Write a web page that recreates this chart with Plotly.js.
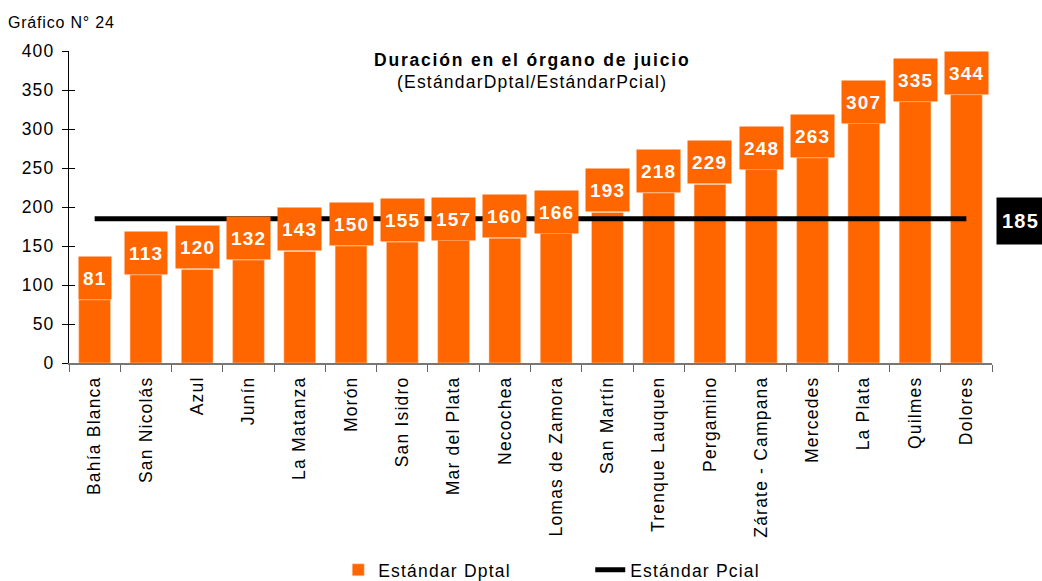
<!DOCTYPE html>
<html><head><meta charset="utf-8">
<script src="https://cdn.plot.ly/plotly-3.0.1.min.js"></script>
<style>body{margin:0;background:#fff}#chart{width:1042px;height:581px}
svg text{letter-spacing:1.2px}</style>
</head><body><div id="chart"></div>
<script>
const categories = ["Bahía Blanca","San Nicolás","Azul","Junín","La Matanza","Morón","San Isidro","Mar del Plata","Necochea","Lomas de Zamora","San Martín","Trenque Lauquen","Pergamino","Zárate - Campana","Mercedes","La Plata","Quilmes","Dolores"];
const dptal = [81,113,120,132,143,150,155,157,160,166,193,218,229,248,263,307,335,344];
const pcialValue = 185;
const pcial = categories.map(() => pcialValue);
const yTicks = [0,50,100,150,200,250,300,350,400];

const FONT = "Liberation Sans, Arial, sans-serif";
const ORANGE = "#FF6600";

const traces = [
  {type:"bar", x:categories, y:dptal, name:"Estándar Dptal",
   marker:{color:ORANGE, line:{color:"#ffd9bf", width:0.5}}, hoverinfo:"x+y"},
  {type:"scatter", mode:"lines", x:categories, y:pcial, name:"Estándar Pcial",
   line:{color:"#000", width:5}},
  {type:"scatter", mode:"none", x:[categories[0]], y:[0], yaxis:"y2", showlegend:false, hoverinfo:"skip"}
];

const annotations = dptal.map((v,i) => ({
  x:categories[i], y:v, xref:"x", yref:"y", yanchor:"bottom", xanchor:"center",
  text:"<b>"+v+"</b>", showarrow:false, bgcolor:ORANGE, borderpad:4, height:34,
  font:{family:FONT, size:19, color:"#fff"}
}));
annotations.push({
  x:1.0045, y:pcialValue, xref:"paper", yref:"y", xanchor:"left", yanchor:"middle", yshift:-2,
  text:"<b>"+pcialValue+"</b>", showarrow:false, bgcolor:"#000", borderpad:5, height:36, width:46,
  font:{family:FONT, size:20, color:"#fff"}, align:"left"
});
annotations.push({
  x:-0.068, y:1.091, xref:"paper", yref:"paper", yanchor:"middle", xanchor:"left", showarrow:false,
  text:"<span style='letter-spacing:0.8px'>Gráfico N° 24</span>", font:{family:FONT, size:16, color:"#000"}
});
annotations.push({
  x:0.502, y:0.971, xref:"paper", yref:"paper", yanchor:"middle", xanchor:"center", showarrow:false,
  text:"<b><span style='letter-spacing:1.8px'>Duración en el órgano de juicio</span></b>",
  font:{family:FONT, size:17.5, color:"#000"}
});
annotations.push({
  x:0.502, y:0.901, xref:"paper", yref:"paper", yanchor:"middle", xanchor:"center", showarrow:false,
  text:"(EstándarDptal/EstándarPcial)",
  font:{family:FONT, size:17.5, color:"#000"}
});

const layout = {
  width:1042, height:581,
  margin:{l:69, r:50, t:51, b:218},
  paper_bgcolor:"#fff", plot_bgcolor:"#fff",
  font:{family:FONT, size:17.5, color:"#000"},
  bargap:0.38,
  showlegend:true,
  legend:{orientation:"h", x:0.2917, xanchor:"left", xref:"paper",
          y:0.05, yanchor:"top", yref:"container",
          font:{family:FONT, size:17.5}, entrywidth:207, traceorder:"normal"},
  xaxis:{type:"category", showline:true, linecolor:"#777", linewidth:1.5,
         ticks:"outside", tickson:"boundaries", ticklen:7, tickcolor:"#666",
         tickangle:-90, ticklabelstandoff:5, showgrid:false, fixedrange:true, automargin:false},
  yaxis:{range:[0,400], tickvals:yTicks, showline:true, linecolor:"#000", linewidth:1,
         ticks:"outside", ticklen:6, tickcolor:"#000", showgrid:false, zeroline:false,
         ticklabelstandoff:4, fixedrange:true, automargin:false},
  yaxis2:{range:[0,400], tickvals:yTicks, overlaying:"y", side:"left", showline:false,
          ticks:"inside", ticklen:6, tickcolor:"#000", showticklabels:false, showgrid:false,
          zeroline:false, fixedrange:true},
  annotations:annotations
};

Plotly.newPlot("chart", traces, layout, {displayModeBar:false, staticPlot:true});
</script></body></html>
